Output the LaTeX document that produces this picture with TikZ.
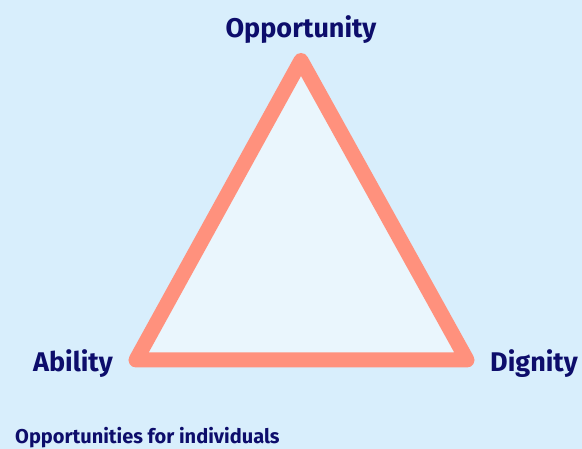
\documentclass[tikz,border=0pt]{standalone}
\usepackage{fontspec}
\setmainfont{Fira Sans}
\definecolor{bg}{HTML}{D8EEFC}
\definecolor{tri}{HTML}{EAF6FD}
\definecolor{edge}{HTML}{FF917D}
\definecolor{ink}{HTML}{0D0D6B}
\tikzset{
  lbl/.style={font=\fontsize{27}{30}\selectfont\bfseries, text=ink, inner sep=0pt},
  small/.style={font=\fontsize{20}{22}\selectfont\bfseries, text=ink, inner sep=0pt}
}
\begin{document}
\begin{tikzpicture}[x=1pt,y=-1pt]
\fill[bg] (0,0) rectangle (582,449);
\useasboundingbox (0,0) rectangle (582,449);
\coordinate (top) at (301,60.5);
\coordinate (bl) at (136,360);
\coordinate (br) at (467,360);
\draw[edge, line width=15, line join=round, fill=tri] (top) -- (bl) -- (br) -- cycle;
\node[lbl, anchor=base] (opp) at (301,38) {Opportunity};
\node[lbl, anchor=base west] (abi) at (33,372) {Ability};
\node[lbl, anchor=base west] (dig) at (490,372) {Dignity};
\node[small, anchor=base west] (note) at (15,444) {Opportunities for individuals};
\end{tikzpicture}
\end{document}
